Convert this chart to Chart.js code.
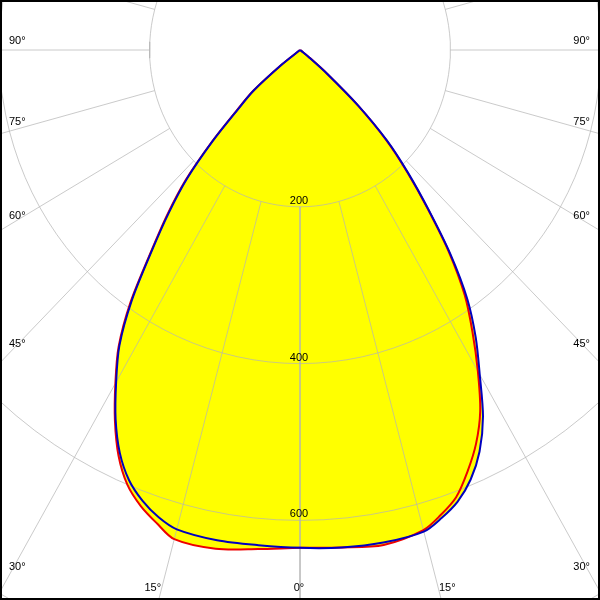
<!DOCTYPE html>
<html>
<head>
<meta charset="utf-8">
<script src="https://cdn.jsdelivr.net/npm/chart.js@4.4.0/dist/chart.umd.min.js"></script>
<style>
  body { margin: 0; background: #fff; }
  #wrap { width: 600px; height: 600px; }
</style>
</head>
<body>
<div id="wrap"><canvas id="polar" width="600" height="600"></canvas></div>
<script>
// gamma angles in degrees from nadir, intensities in cd
const gammaAngles = [0, 5, 10, 15, 17.5, 20, 22.5, 25, 27.5, 30, 32.5, 35, 37.5, 40, 42.5, 45, 47.5, 50, 52.5, 55, 60, 75, 90];
const redLeft   = [635, 639, 646, 646, 633, 619, 600, 571, 533, 491, 449, 393, 327, 275, 225, 166, 114, 81, 30, 0, 0, 0, 0];
const redRight  = [636, 637, 641, 634, 622, 607, 582, 554, 519, 473, 427, 382, 326, 264, 211, 162, 104, 47, 15, 3, 0, 0, 0];
const blueLeft  = [635, 634, 635, 633, 625, 612, 594, 567, 531, 489, 447, 390, 325, 272, 222, 164, 112, 80, 30, 0, 0, 0, 0];
const blueRight = [636, 637, 638, 636, 626, 613, 593, 565, 527, 478, 435, 388, 329, 266, 213, 164, 105, 48, 15, 3, 0, 0, 0];

const ringValues = [200, 400, 600, 800];
const ringLabels = ["200", "400", "600"];
const spokeAngles = [0, 15, 30, 45, 60, 75, 90, 105, 120, 135, 150, 165, 180, 195, 210, 225, 240, 255, 270, 285, 300, 315, 330, 345];
const angleLabels = [0, 15, 30, 45, 60, 75, 90];

// the picture is a little squashed sideways, so px per cd differ
const kx = 0.752, ky = 0.784;
const gridColor = "rgba(180,180,180,0.7)";

function toXY(gamma, r) {
  const a = gamma * Math.PI / 180;
  return { x: r * Math.sin(a), y: -r * Math.cos(a) };
}

function planeCurve(left, right) {
  let pts = [];
  for (let i = gammaAngles.length - 1; i >= 0; i--) pts.push(toXY(-gammaAngles[i], left[i]));
  for (let i = 1; i < gammaAngles.length; i++) pts.push(toXY(gammaAngles[i], right[i]));
  return pts;
}

function ringPoints() {
  let pts = [];
  ringValues.forEach((v) => {
    for (let a = 0; a <= 360; a += 3) pts.push(toXY(a, v));
    pts.push({ x: null, y: null });
  });
  return pts;
}

function spokePoints() {
  let pts = [];
  spokeAngles.forEach((a) => {
    pts.push(toXY(a, ringValues[0]));
    pts.push(toXY(a, 1000));
    pts.push({ x: null, y: null });
  });
  return pts;
}

const redPts = planeCurve(redLeft, redRight);
const bluePts = planeCurve(blueLeft, blueRight);

const labelsPlugin = {
  id: "polarLabels",
  afterDatasetsDraw(chart) {
    const ctx = chart.ctx;
    const xs = chart.scales.x, ys = chart.scales.y;
    const px = (p) => ({ x: xs.getPixelForValue(p.x), y: ys.getPixelForValue(p.y) });
    ctx.save();
    ctx.fillStyle = "#000";
    ctx.font = '11px "Liberation Sans", Arial, sans-serif';
    ctx.textBaseline = "middle";
    ctx.textAlign = "center";
    ringLabels.forEach((t, i) => {
      const p = px(toXY(0, ringValues[i]));
      ctx.fillText(t, p.x - 1, p.y - 6);
    });
    const c = px({ x: 0, y: 0 });
    angleLabels.forEach((a) => {
      [-1, 1].forEach((side) => {
        if (a === 0 && side === 1) return;
        const e = px(toXY(a * side, 1000));
        const dx = e.x - c.x, dy = e.y - c.y;
        let bx = dy > 0 ? c.x + dx * (588 - c.y) / dy : null;
        if (bx !== null && bx > 10 && bx < 590) {
          ctx.textAlign = "center";
          ctx.fillText(a + "°", bx + (a === 0 ? -1 : side * 9), 588);
        } else {
          const ex = side < 0 ? 9 : 591;
          const y = c.y + dy * (ex - c.x) / dx - 9;
          ctx.textAlign = side < 0 ? "left" : "right";
          ctx.fillText(a + "°", side < 0 ? 9 : 590, y);
        }
      });
    });
    ctx.restore();
  },
  afterDraw(chart) {
    const ctx = chart.ctx;
    ctx.save();
    ctx.strokeStyle = "#000";
    ctx.lineWidth = 4;
    ctx.strokeRect(0, 0, chart.width, chart.height);
    ctx.restore();
  },
};

function fillSet(pts) {
  return {
    data: pts,
    showLine: true,
    fill: "shape",
    backgroundColor: "#ffff00",
    borderColor: "rgba(0,0,0,0)",
    borderWidth: 1,
    pointRadius: 0,
    tension: 0.3,
    order: 10,
  };
}

new Chart(document.getElementById("polar"), {
  type: "scatter",
  data: {
    datasets: [
      fillSet(redPts),
      fillSet(bluePts),
      { data: ringPoints(), showLine: true, borderColor: gridColor, borderWidth: 1, pointRadius: 0, order: 5 },
      { data: spokePoints(), showLine: true, borderColor: gridColor, borderWidth: 1, pointRadius: 0, order: 5 },
      { data: redPts, showLine: true, borderColor: "#ee0000", borderWidth: 2, pointRadius: 0, tension: 0.3, order: 1 },
      { data: bluePts, showLine: true, borderColor: "#0000c0", borderWidth: 2, pointRadius: 0, tension: 0.3, order: 0 },
    ],
  },
  options: {
    responsive: false,
    animation: false,
    events: [],
    layout: { padding: 0 },
    plugins: {
      legend: { display: false },
      tooltip: { enabled: false },
    },
    scales: {
      x: { type: "linear", min: -300 / kx, max: 300 / kx, display: false },
      y: { type: "linear", min: -550 / ky, max: 50 / ky, display: false },
    },
  },
  plugins: [labelsPlugin],
});
</script>
</body>
</html>
